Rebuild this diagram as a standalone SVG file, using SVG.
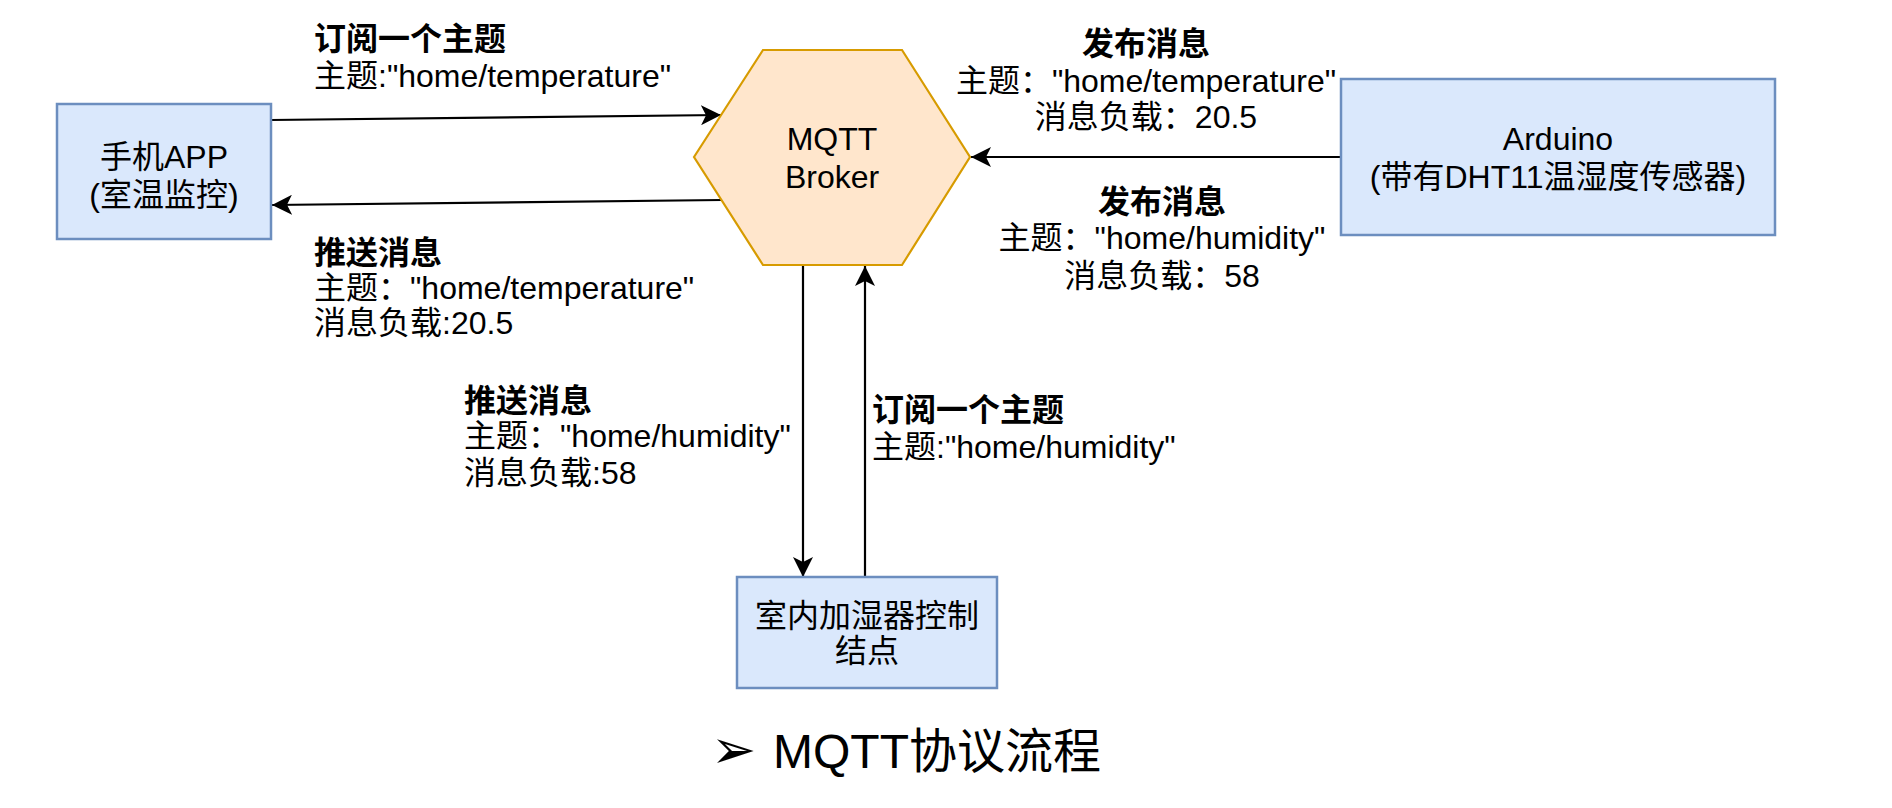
<svg xmlns="http://www.w3.org/2000/svg" width="1892" height="808" viewBox="0 0 1892 808">
<style>
text{font-family:"Liberation Sans","Noto Sans CJK SC",sans-serif;font-size:32px;fill:#000}
.b{font-weight:bold}
.m{text-anchor:middle}
.box{fill:#dae8fc;stroke:#6c8ebf;stroke-width:2.5}
.hex{fill:#ffe6cc;stroke:#d79b00;stroke-width:2.2}
.edge{fill:none;stroke:#000;stroke-width:2.2;marker-end:url(#arr)}
.cap{font-size:48px}
</style>
<defs>
<marker id="arr" markerUnits="userSpaceOnUse" viewBox="0 0 20 20" markerWidth="20" markerHeight="20" refX="20" refY="10" orient="auto">
<path d="M0,0 L20,10 L0,20 L5,10 z" fill="#000"/>
</marker>
</defs>
<rect width="1892" height="808" fill="#fff"/>
<g id="connectors">
<path class="edge" d="M271,120 L721,115"/>
<path class="edge" d="M722,200 L272,205"/>
<path class="edge" d="M1341,157 L971,157"/>
<path class="edge" d="M803,265 L803,577"/>
<path class="edge" d="M865,577 L865,266"/>
</g>
<g id="app">
<rect class="box" x="57" y="104" width="214" height="135"/>
<text class="m" x="164" y="168">手机APP</text>
<text class="m" x="164" y="206">(室温监控)</text>
</g>
<g id="broker">
<polygon class="hex" points="694,157 763,50 902,50 970,157 902,265 763,265"/>
<text class="m" x="832" y="150">MQTT</text>
<text class="m" x="832" y="188">Broker</text>
</g>
<g id="arduino">
<rect class="box" x="1341" y="79" width="434" height="156"/>
<text class="m" x="1558" y="150">Arduino</text>
<text class="m" x="1558" y="188">(带有DHT11温湿度传感器)</text>
</g>
<g id="humidifier">
<rect class="box" x="737" y="577" width="260" height="111"/>
<text class="m" x="867" y="627">室内加湿器控制</text>
<text class="m" x="867" y="662">结点</text>
</g>
<g id="labels">
<text class="b" x="314" y="50">订阅一个主题</text>
<text x="314" y="87">主题:"home/temperature"</text>
<text class="b" x="314" y="264">推送消息</text>
<text x="314" y="299">主题："home/temperature"</text>
<text x="314" y="334">消息负载:20.5</text>
<text class="b m" x="1146" y="55">发布消息</text>
<text class="m" x="1146" y="92">主题："home/temperature"</text>
<text class="m" x="1146" y="128">消息负载：20.5</text>
<text class="b m" x="1162" y="213">发布消息</text>
<text class="m" x="1162" y="249">主题："home/humidity"</text>
<text class="m" x="1162" y="287">消息负载：58</text>
<text class="b" x="464" y="412">推送消息</text>
<text x="464" y="447">主题："home/humidity"</text>
<text x="464" y="484">消息负载:58</text>
<text class="b" x="872" y="421">订阅一个主题</text>
<text x="872" y="458">主题:"home/humidity"</text>
</g>
<g id="caption">
<text x="711" y="768" style="font-family:'DejaVu Sans',sans-serif;font-size:54px">➢</text>
<text class="cap" x="773" y="768">MQTT协议流程</text>
</g>
</svg>
